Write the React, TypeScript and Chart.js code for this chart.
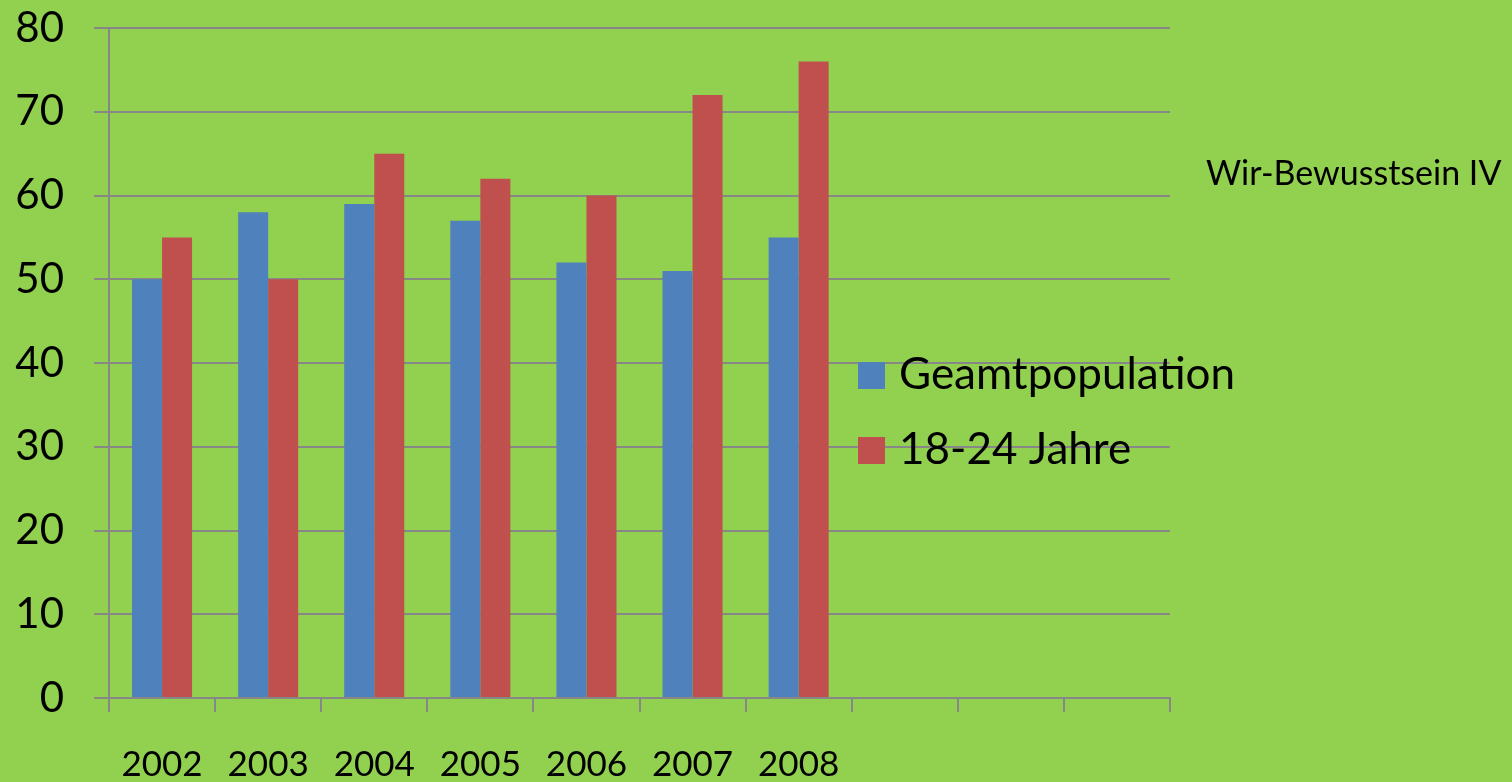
import React, { useEffect, useRef } from "react";
import { Chart, registerables } from "chart.js";

Chart.register(...registerables);

const categories = ["2002", "2003", "2004", "2005", "2006", "2007", "2008", "", "", ""];
const gesamtpopulation = [50, 58, 59, 57, 52, 51, 55];
const jahre1824 = [55, 50, 65, 62, 60, 72, 76];
const seriesLabels = ["Geamtpopulation", "18-24 Jahre"];
const seriesColors = ["#4F81BD", "#C0504D"];
const yMin = 0;
const yMax = 80;
const yStep = 10;
const chartTitle = "Wir-Bewusstsein IV";

const FONT = "Lato, 'Open Sans', sans-serif";
const GRID = "#878787";

const overlayPlugin = {
  id: "overlay",
  afterDraw(chart: any) {
    const ctx = chart.ctx as CanvasRenderingContext2D;
    const area = chart.chartArea;
    ctx.save();
    ctx.textBaseline = "middle";
    ctx.textAlign = "left";
    ctx.font = `44px ${FONT}`;
    const lx = area.left + 749;
    chart.data.datasets.forEach((ds: any, i: number) => {
      const y = 375 + i * 75;
      ctx.fillStyle = ds.backgroundColor;
      ctx.fillRect(lx, y - 13, 27, 27);
      ctx.fillStyle = "#000";
      ctx.fillText(ds.label, lx + 41, y);
    });
    ctx.font = `34px ${FONT}`;
    ctx.fillText(chartTitle, 1206, 174);
    ctx.restore();
  },
};

export default function App() {
  const ref = useRef<HTMLCanvasElement | null>(null);
  useEffect(() => {
    if (!ref.current) return;
    const chart = new Chart(ref.current, {
      type: "bar",
      data: {
        labels: categories,
        datasets: [
          { label: seriesLabels[0], data: gesamtpopulation, backgroundColor: seriesColors[0] },
          { label: seriesLabels[1], data: jahre1824, backgroundColor: seriesColors[1] },
        ],
      },
      options: {
        animation: false,
        responsive: false,
        layout: { padding: { top: 28, right: 342, left: 0, bottom: 0 } },
        datasets: { bar: { categoryPercentage: 0.566, barPercentage: 1 } },
        plugins: { legend: { display: false }, title: { display: false }, tooltip: { enabled: false } },
        scales: {
          x: {
            grid: { drawOnChartArea: false, drawTicks: true, tickLength: 14, color: GRID, lineWidth: 2 },
            border: { display: true, color: GRID, width: 2 },
            ticks: { font: { family: FONT, size: 35 }, color: "#000", padding: 32, maxRotation: 0, autoSkip: false },
            afterFit: (s: any) => { s.height = 84; s.paddingLeft = 0; s.paddingRight = 0; },
          },
          y: {
            min: yMin,
            max: yMax,
            ticks: { stepSize: yStep, font: { family: FONT, size: 42 }, color: "#000", padding: 30 },
            grid: { color: GRID, lineWidth: 2, tickLength: 15 },
            border: { display: true, color: GRID, width: 2 },
            afterFit: (s: any) => { s.width = 109; s.paddingTop = 0; s.paddingBottom = 0; },
          },
        },
      },
      plugins: [overlayPlugin],
    });
    return () => chart.destroy();
  }, []);
  return (
    <div style={{ position: "fixed", left: 0, top: 0, width: 1512, height: 782, background: "#92D050" }}>
      <canvas ref={ref} width={1512} height={782} style={{ display: "block" }} />
    </div>
  );
}
